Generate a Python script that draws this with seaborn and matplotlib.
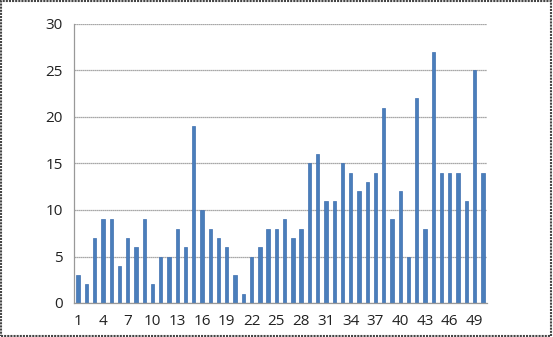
import matplotlib
matplotlib.use("Agg")
import matplotlib.pyplot as plt
import seaborn as sns
import pandas as pd
import numpy as np

categories = [str(i) for i in range(1, 51)]
values = [3, 2, 7, 9, 9, 4, 7, 6, 9, 2,
          5, 5, 8, 6, 19, 10, 8, 7, 6, 3,
          1, 5, 6, 8, 8, 9, 7, 8, 15, 16,
          11, 11, 15, 14, 12, 13, 14, 21, 9, 12,
          5, 22, 8, 27, 14, 14, 14, 11, 25, 14]
y_ticks = [0, 5, 10, 15, 20, 25, 30]

sns.set_theme(style="white")
plt.rcParams['font.family'] = ['Open Sans', 'DejaVu Sans']

df = pd.DataFrame({"cat": categories, "val": values})

fig = plt.figure(figsize=(5.53, 3.37), dpi=100)
ax = fig.add_axes([74/553, 1 - 303/337, (487 - 74)/553, (303 - 24)/337])

sns.barplot(data=df, x="cat", y="val", ax=ax, color="#4A7EBB",
            width=0.4, edgecolor="#3F6FB0", linewidth=0.5, saturation=1)

ax.set_ylim(0, 30)
ax.set_xlim(-0.5, len(categories) - 0.5)
ax.set_yticks(y_ticks)
ax.set_yticklabels([str(t) for t in y_ticks], fontsize=11, color="#222222")
ax.set_xticks(list(range(0, 50, 3)))
ax.set_xticklabels([categories[i] for i in range(0, 50, 3)], fontsize=11, color="#222222")
ax.set_xticks(np.arange(-0.5, 50, 1), minor=True)
ax.tick_params(axis="x", which="major", length=0, pad=8)
ax.tick_params(axis="x", which="minor", length=4, color="#999999", width=0.8, direction="out")
ax.tick_params(axis="y", which="major", length=4, color="#999999", width=0.8, direction="out", pad=4)
ax.set_xlabel("")
ax.set_ylabel("")

ax.yaxis.grid(True, color="#8c8c8c", linewidth=0.9, linestyle=(0, (1, 0.6)))
ax.set_axisbelow(True)
for s in ["top", "right"]:
    ax.spines[s].set_visible(False)
for s in ["left", "bottom"]:
    ax.spines[s].set_color("#999999")
    ax.spines[s].set_linewidth(0.9)

# outer border of chart area
border = plt.Rectangle((0.002, 0.003), 0.995, 0.993, transform=fig.transFigure,
                       fill=False, edgecolor="#444444", linewidth=1.5, linestyle=(0, (1, 0.5)))
fig.patches.append(border)

fig.savefig("out.png", dpi=100)
